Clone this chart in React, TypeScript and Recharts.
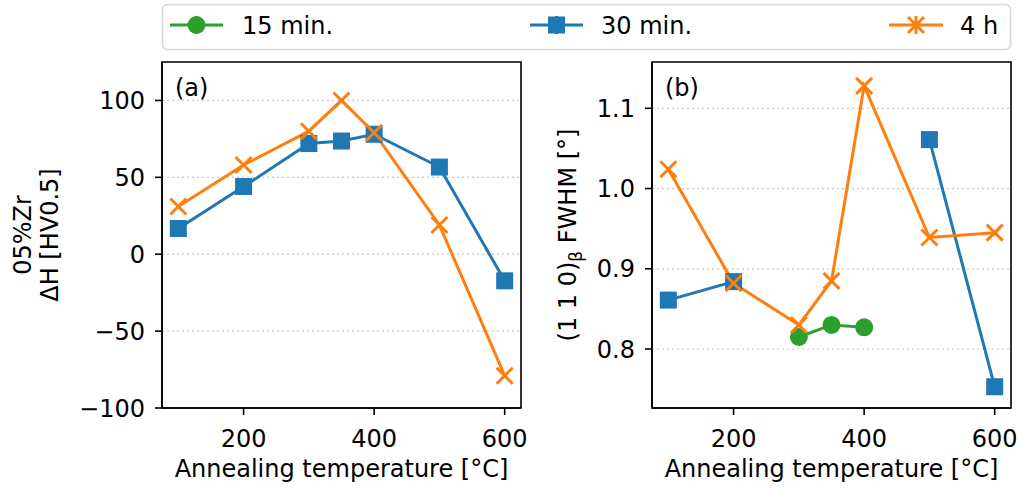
import React from 'react';
import { LineChart, Line, XAxis, YAxis, CartesianGrid, ReferenceArea } from 'recharts';

// Annealing temperatures [°C]
const temps = [100, 200, 300, 350, 400, 500, 600];
// (a) hardness change ΔH [HV0.5]
const dH30min = [16.7, 44, 72, 73.6, 78, 56.7, -17.3];
const dH4h = [31, 58, 80, 100, 79, 19, -79];
// (b) (1 1 0)β FWHM [°]
const fwhm15min = [null, null, 0.815, 0.83, 0.827, null, null];
const fwhm30min = [0.861, 0.884, null, null, null, 1.061, 0.753];
const fwhm4h = [1.024, 0.882, 0.83, 0.885, 1.128, 0.939, 0.945];

const xTicks = [200, 400, 600];
const yTicksA = [-100, -50, 0, 50, 100];
const yTicksB = [0.8, 0.9, 1.0, 1.1];
const seriesNames = ['15 min.', '30 min.', '4 h'];

const X_DOMAIN: [number, number] = [75, 625];
const YA_DOMAIN: [number, number] = [-100, 125];
const YB_DOMAIN: [number, number] = [0.7265, 1.1577];

const dataA = temps.map((t, i) => ({ t, m30: dH30min[i], h4: dH4h[i] }));
const dataB = temps.map((t, i) => ({ t, m15: fwhm15min[i], m30: fwhm30min[i], h4: fwhm4h[i] }));

const BLUE = '#1f77b4';
const ORANGE = '#ff7f0e';
const GREEN = '#2ca02c';
const FONT = 'DejaVu Sans, Verdana, sans-serif';
const FS = 24;

const SquareDot = (props: any) => {
  const { cx, cy } = props;
  if (cx == null || cy == null || props.value == null) return <g key={props.key} />;
  return <rect key={props.key} x={cx - 8.5} y={cy - 8.5} width={17} height={17} fill={BLUE} />;
};
const CircleDot = (props: any) => {
  const { cx, cy } = props;
  if (cx == null || cy == null || props.value == null) return <g key={props.key} />;
  return <circle key={props.key} cx={cx} cy={cy} r={9} fill={GREEN} />;
};
const XDot = (props: any) => {
  const { cx, cy } = props;
  if (cx == null || cy == null || props.value == null) return <g key={props.key} />;
  const s = 8;
  return (
    <g key={props.key} stroke={ORANGE} strokeWidth={3}>
      <line x1={cx - s} y1={cy - s} x2={cx + s} y2={cy + s} />
      <line x1={cx - s} y1={cy + s} x2={cx + s} y2={cy - s} />
    </g>
  );
};

const fmtA = (v: number) => (v < 0 ? '\u2212' + Math.abs(v) : String(v));
const fmtB = (v: number) => v.toFixed(1);

const tickStyle = { fill: '#000', fontSize: FS, fontFamily: FONT };
const axisLine = { stroke: '#000', strokeWidth: 1.6 };

const XLabel = (props: any) => {
  const vb = props.viewBox || { x: 0, width: 0 };
  return (
    <text x={vb.x + vb.width / 2} y={477} textAnchor="middle" fontSize={FS} fontFamily={FONT} fill="#000">
      Annealing temperature [°C]
    </text>
  );
};

const YLabelA = () => (
  <text transform="translate(0,235) rotate(-90)" textAnchor="middle" fontSize={FS} fontFamily={FONT} fill="#000">
    <tspan x={0} y={31}>05%Zr</tspan>
    <tspan x={0} y={58}>ΔH [HV0.5]</tspan>
  </text>
);

const YLabelB = () => (
  <text transform="translate(46,235) rotate(-90)" textAnchor="middle" fontSize={FS} fontFamily={FONT} fill="#000">
    (1 1 0)<tspan fontSize={17} dy={6}>β</tspan><tspan dy={-6}> FWHM [°]</tspan>
  </text>
);

const PanelLetter = ({ text, x }: { text: string; x: number }) => (
  <text x={x} y={96} fontSize={FS} fontFamily={FONT} fill="#000">{text}</text>
);

export default function App() {
  return (
    <div style={{ position: 'absolute', left: 0, top: 0, width: 1022, height: 489, background: '#fff' }}>
      {/* Legend */}
      <svg width={1022} height={55} style={{ position: 'absolute', left: 0, top: 0 }}>
        <rect x={162.5} y={4.5} width={848} height={45} rx={5} fill="#fff" stroke="#d6d6d6" strokeWidth={1.5} />
        <g>
          <line x1={170} y1={25} x2={223} y2={25} stroke={GREEN} strokeWidth={3} />
          <line x1={196.5} y1={16} x2={196.5} y2={34} stroke={GREEN} strokeWidth={3} />
          <circle cx={196.5} cy={25} r={9} fill={GREEN} />
          <text x={242} y={34} fontSize={FS} fontFamily={FONT} fill="#000">{seriesNames[0]}</text>
        </g>
        <g>
          <line x1={530} y1={25} x2={583} y2={25} stroke={BLUE} strokeWidth={3} />
          <line x1={556.5} y1={16} x2={556.5} y2={34} stroke={BLUE} strokeWidth={3} />
          <rect x={548} y={16.5} width={17} height={17} fill={BLUE} />
          <text x={601} y={34} fontSize={FS} fontFamily={FONT} fill="#000">{seriesNames[1]}</text>
        </g>
        <g>
          <line x1={889} y1={25} x2={943} y2={25} stroke={ORANGE} strokeWidth={3} />
          <line x1={916} y1={16} x2={916} y2={34} stroke={ORANGE} strokeWidth={3} />
          <line x1={908} y1={17} x2={924} y2={33} stroke={ORANGE} strokeWidth={3} />
          <line x1={908} y1={33} x2={924} y2={17} stroke={ORANGE} strokeWidth={3} />
          <text x={960} y={34} fontSize={FS} fontFamily={FONT} fill="#000">{seriesNames[2]}</text>
        </g>
      </svg>

      {/* Panel (a) */}
      <div style={{ position: 'absolute', left: 0, top: 0 }}>
        <LineChart width={540} height={489} data={dataA} margin={{ top: 62, right: 19, bottom: 21, left: 0 }}>
          <CartesianGrid vertical={false} stroke="#c8c8c8" strokeDasharray="2 3" strokeWidth={1.2} />
          <XAxis type="number" dataKey="t" domain={X_DOMAIN} ticks={xTicks} allowDataOverflow height={60}
            tick={tickStyle} tickSize={7} tickMargin={15} axisLine={axisLine} tickLine={axisLine} label={<XLabel />} />
          <YAxis type="number" domain={YA_DOMAIN} ticks={yTicksA} allowDataOverflow width={162}
            tick={tickStyle} tickSize={7} tickMargin={10} tickFormatter={fmtA} axisLine={axisLine} tickLine={axisLine} label={<YLabelA />} />
          <ReferenceArea x1={X_DOMAIN[0]} x2={X_DOMAIN[1]} y1={YA_DOMAIN[0]} y2={YA_DOMAIN[1]} fill="none" fillOpacity={0}
            stroke="#000" strokeWidth={1.6} ifOverflow="visible" />
          <Line dataKey="m30" stroke={BLUE} strokeWidth={3} dot={SquareDot} activeDot={false} isAnimationActive={false} />
          <Line dataKey="h4" stroke={ORANGE} strokeWidth={3} dot={XDot} activeDot={false} isAnimationActive={false} />
        </LineChart>
        <svg width={300} height={120} style={{ position: 'absolute', left: 0, top: 0, pointerEvents: 'none' }}>
          <PanelLetter text="(a)" x={175} />
        </svg>
      </div>

      {/* Panel (b) */}
      <div style={{ position: 'absolute', left: 530, top: 0 }}>
        <LineChart width={492} height={489} data={dataB} margin={{ top: 62, right: 11, bottom: 21, left: 0 }}>
          <CartesianGrid vertical={false} stroke="#c8c8c8" strokeDasharray="2 3" strokeWidth={1.2} />
          <XAxis type="number" dataKey="t" domain={X_DOMAIN} ticks={xTicks} allowDataOverflow height={60}
            tick={tickStyle} tickSize={7} tickMargin={15} axisLine={axisLine} tickLine={axisLine} label={<XLabel />} />
          <YAxis type="number" domain={YB_DOMAIN} ticks={yTicksB} allowDataOverflow width={122}
            tick={tickStyle} tickSize={7} tickMargin={10} tickFormatter={fmtB} axisLine={axisLine} tickLine={axisLine} label={<YLabelB />} />
          <ReferenceArea x1={X_DOMAIN[0]} x2={X_DOMAIN[1]} y1={YB_DOMAIN[0]} y2={YB_DOMAIN[1]} fill="none" fillOpacity={0}
            stroke="#000" strokeWidth={1.6} ifOverflow="visible" />
          <Line dataKey="m15" stroke={GREEN} strokeWidth={3} dot={CircleDot} activeDot={false} isAnimationActive={false} />
          <Line dataKey="m30" stroke={BLUE} strokeWidth={3} dot={SquareDot} activeDot={false} isAnimationActive={false} />
          <Line dataKey="h4" stroke={ORANGE} strokeWidth={3} dot={XDot} activeDot={false} isAnimationActive={false} />
        </LineChart>
        <svg width={300} height={120} style={{ position: 'absolute', left: 0, top: 0, pointerEvents: 'none' }}>
          <PanelLetter text="(b)" x={135} />
        </svg>
      </div>
    </div>
  );
}
